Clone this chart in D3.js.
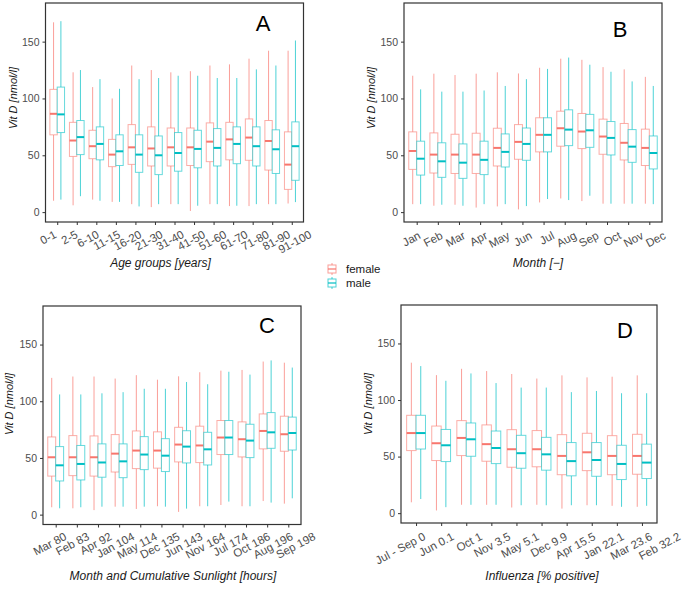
<!DOCTYPE html>
<html>
<head>
<meta charset="utf-8">
<script src="https://d3js.org/d3.v7.min.js"></script>
<style>
  body { margin: 0; background: #fff; }
  text { font-family: "Liberation Sans", Arial, sans-serif; }
</style>
</head>
<body>
<svg id="chart" width="685" height="590"></svg>
<script>
// each box: [min, q1, median, q3, max]  (Vit D, nmol/l)
const ageGroups = ["0-1","2-5","6-10","11-15","16-20","21-30","31-40","41-50","51-60","61-70","71-80","81-90","91-100"];
const ageFemale = [
  [10,68,86.5,108,167],[6,49,63,79,123],[11,47,58,72,110],[9,40,50.6,64,100],[7,42,57,77,129],
  [4.4,40.6,56,75,125],[7,40.6,57,74,123],[1,41,57,74,124],[7,44.4,62,78.5,129],[5.3,46,64,79,130],
  [5.3,45.6,65.6,82,135],[7,37,62.6,80.6,142],[7.6,20,41.8,70.6,142]
];
const ageMale = [
  [11,70,86,110,168],[14,50.6,66,80.6,125],[10,46,60,75,117],[9,41,53.5,68,108.5],[5,35,50.6,68,117],
  [7,33,50,67,118],[7,36,52,70,120],[5.6,39,55.6,72,120],[7,40.6,56.5,73.5,118],[5.6,42.6,60,75,118],
  [7,40.6,58,75,125.6],[7,34,55.3,72.4,129],[8.8,28,58,79.4,151]
];

const months = ["Jan","Feb","Mar","Apr","May","Jun","Jul","Aug","Sep","Oct","Nov","Dec"];
const monthFemale = [
  [7,37.6,53.8,70.6,120],[5.6,34.4,50.6,69.7,121.8],[6.5,34,50.6,68.5,120.6],[4,34,50.6,69.4,121.8],
  [5,40.6,56.5,73.8,123],[2.4,46.5,61.8,77,122],[8.5,53,68,83,127],[12,58,73.8,88.8,135],
  [9.7,55.9,70.9,86.8,134],[7.4,50.9,66.5,81.8,127.6],[7.4,45.9,61,78,125.6],[7.4,41,56.5,73,119]
];
const monthMale = [
  [7,32.6,47,62.4,108],[6.5,30.6,44.7,61,106],[5.6,29.7,43.5,60,106],[7,33,46,62.4,107],
  [7,39.7,53,68.8,111],[5.3,45.6,60,74,117],[11.5,53,68,83,126],[10.6,58.5,72.6,90,136],
  [14.4,57,72,86,129.7],[7.4,50.3,65.3,79.7,123.5],[7.4,43.8,57.6,72.6,115],[7,38,52,67,111]
];

// panel C: months ordered by cumulative sunlight
const sunMonths = ["Mar","Feb","Apr","Jan","May","Dec","Jun","Nov","Jul","Oct","Aug","Sep"];
const sunHours = ["80","83","92","104","114","135","143","164","174","186","196","198"];

// panel D: months ordered by influenza positivity
const fluMonths = ["Jul - Sep","Jun","Oct","Nov","May","Dec","Apr","Jan","Mar","Feb"];
const fluPositive = ["0","0.1","1","3.5","5.1","9.9","15.5","22.1","23.6","32.2"];
const julSepFemale = [9.6,55.3,70.8,86.5,133];
const julSepMale = [12.5,56.7,70.8,86.5,130];

const yTicks = [0, 50, 100, 150];
const seriesNames = ["female", "male"];
const colors = { female: "#F8766D", male: "#00BFC4" };

function pick(name, arr) { return name === "Jul - Sep" ? null : arr[months.indexOf(name)]; }

// labStart/labEnd/labY: where the rotated tick labels end (they sit a bit wider than the ticks)
const panels = [
  { letter: "A", lx: 263, ly: 31, x0: 45.5, x1: 303.5, y0: 3, y1: 222, ylabX: 17, ylabY: 98,
    labStart: 57, labEnd: 312, labY: 237,
    labels: ageGroups, female: ageFemale, male: ageMale,
    title: "Age groups [years]", titleX: 160.5, titleY: 267 },
  { letter: "B", lx: 620, ly: 37, x0: 404, x1: 662, y0: 3, y1: 222, ylabX: 375, ylabY: 98,
    labStart: 421, labEnd: 666, labY: 238,
    labels: months, female: monthFemale, male: monthMale,
    title: "Month [−]", titleX: 538, titleY: 267 },
  { letter: "C", lx: 267, ly: 333, x0: 43, x1: 301, y0: 306, y1: 524.5, ylabX: 13, ylabY: 404,
    labStart: 67, labEnd: 316, labY: 539,
    labels: sunMonths.map((m, i) => m + " " + sunHours[i]),
    female: sunMonths.map(m => pick(m, monthFemale)), male: sunMonths.map(m => pick(m, monthMale)),
    title: "Month and Cumulative Sunlight [hours]", titleX: 173, titleY: 580 },
  { letter: "D", lx: 625, ly: 338, x0: 401, x1: 657, y0: 305, y1: 523, ylabX: 372, ylabY: 404,
    labStart: 426, labEnd: 681, labY: 539,
    labels: fluMonths.map((m, i) => m + " " + fluPositive[i]),
    female: fluMonths.map(m => pick(m, monthFemale) || julSepFemale),
    male: fluMonths.map(m => pick(m, monthMale) || julSepMale),
    title: "Influenza [% positive]", titleX: 542, titleY: 580 }
];

const svg = d3.select("#chart");

panels.forEach(function (p) {
  const n = p.labels.length;
  const x = d3.scaleLinear().domain([0.4, n + 0.6]).range([p.x0, p.x1]);
  const xl = d3.scaleLinear().domain([1, n]).range([p.labStart, p.labEnd]);
  const y = d3.scaleLinear().domain([-8.7, 184]).range([p.y1, p.y0]);
  const g = svg.append("g");
  const unit = x(2) - x(1);

  // Boxes
  seriesNames.forEach(function (s, si) {
    const off = (si === 0 ? -0.1875 : 0.1875);
    const hw = 0.1875 * unit;
    const bg = g.append("g").selectAll("g").data(p[s]).enter().append("g");
    const cx = (d, i) => x(i + 1 + off);
    bg.append("line").attr("x1", cx).attr("x2", cx)
      .attr("y1", d => y(d[0])).attr("y2", d => y(d[1]))
      .attr("stroke", colors[s]).attr("stroke-opacity", 0.7).attr("stroke-width", 1);
    bg.append("line").attr("x1", cx).attr("x2", cx)
      .attr("y1", d => y(d[3])).attr("y2", d => y(d[4]))
      .attr("stroke", colors[s]).attr("stroke-opacity", 0.7).attr("stroke-width", 1);
    bg.append("rect")
      .attr("x", (d, i) => cx(d, i) - hw).attr("width", 2 * hw)
      .attr("y", d => y(d[3])).attr("height", d => y(d[1]) - y(d[3]))
      .attr("fill", "white").attr("stroke", colors[s]).attr("stroke-opacity", 0.6).attr("stroke-width", 1);
    bg.append("line")
      .attr("x1", (d, i) => cx(d, i) - hw).attr("x2", (d, i) => cx(d, i) + hw)
      .attr("y1", d => y(d[2])).attr("y2", d => y(d[2]))
      .attr("stroke", colors[s]).attr("stroke-width", 2);
  });

  // Frame
  g.append("rect").attr("x", p.x0).attr("y", p.y0)
    .attr("width", p.x1 - p.x0).attr("height", p.y1 - p.y0)
    .attr("fill", "none").attr("stroke", "#333").attr("stroke-width", 1.2);

  // Y axis
  const ya = g.append("g").attr("transform", "translate(" + p.x0 + ",0)")
    .call(d3.axisLeft(y).tickValues(yTicks).tickSize(3).tickPadding(3));
  ya.select(".domain").remove();
  ya.selectAll("line").attr("stroke", "#333");
  ya.selectAll("text").attr("fill", "#4d4d4d").attr("font-size", 10.5)
    .style("font-family", "'Liberation Sans', Arial, sans-serif");

  // X axis ticks
  const xa = g.append("g").attr("transform", "translate(0," + p.y1 + ")")
    .call(d3.axisBottom(x).tickValues(d3.range(1, n + 1)).tickFormat("").tickSize(3));
  xa.select(".domain").remove();
  xa.selectAll("line").attr("stroke", "#333");

  // X tick labels
  const xt = g.append("g").attr("transform", "translate(0," + p.labY + ")")
    .call(d3.axisBottom(xl).tickValues(d3.range(1, n + 1)).tickFormat(i => p.labels[i - 1]).tickSize(0));
  xt.select(".domain").remove();
  xt.selectAll("text").attr("fill", "#4d4d4d").attr("font-size", 11.5)
    .style("font-family", "'Liberation Sans', Arial, sans-serif")
    .attr("text-anchor", "end").attr("y", 0).attr("dy", 0)
    .attr("transform", "rotate(-28)");

  // Y label
  g.append("text").attr("transform", "translate(" + p.ylabX + "," + p.ylabY + ") rotate(-90)")
    .attr("text-anchor", "middle").attr("font-style", "italic").attr("font-size", 11)
    .attr("fill", "#1a1a1a").text("Vit D [nmol/l]");

  // X title
  g.append("text").attr("x", p.titleX).attr("y", p.titleY)
    .attr("text-anchor", "middle").attr("font-style", "italic").attr("font-size", 12)
    .attr("fill", "#1a1a1a").text(p.title);

  // Panel letter
  g.append("text").attr("x", p.lx).attr("y", p.ly)
    .attr("text-anchor", "middle").attr("font-size", 22).attr("fill", "#000").text(p.letter);
});

// Legend
const legend = svg.append("g");
seriesNames.forEach(function (s, i) {
  const ly = 269 + i * 14;
  const lg = legend.append("g");
  lg.append("line").attr("x1", 332).attr("x2", 332).attr("y1", ly - 6).attr("y2", ly + 6)
    .attr("stroke", colors[s]).attr("stroke-opacity", 0.7);
  lg.append("rect").attr("x", 328).attr("y", ly - 4).attr("width", 8).attr("height", 8)
    .attr("fill", "white").attr("stroke", colors[s]).attr("stroke-opacity", 0.7);
  lg.append("line").attr("x1", 328).attr("x2", 336).attr("y1", ly).attr("y2", ly)
    .attr("stroke", colors[s]).attr("stroke-width", 1.2);
  lg.append("text").attr("x", 346).attr("y", ly + 4).attr("font-size", 11.5)
    .attr("fill", "#1a1a1a").text(s);
});
</script>
</body>
</html>
